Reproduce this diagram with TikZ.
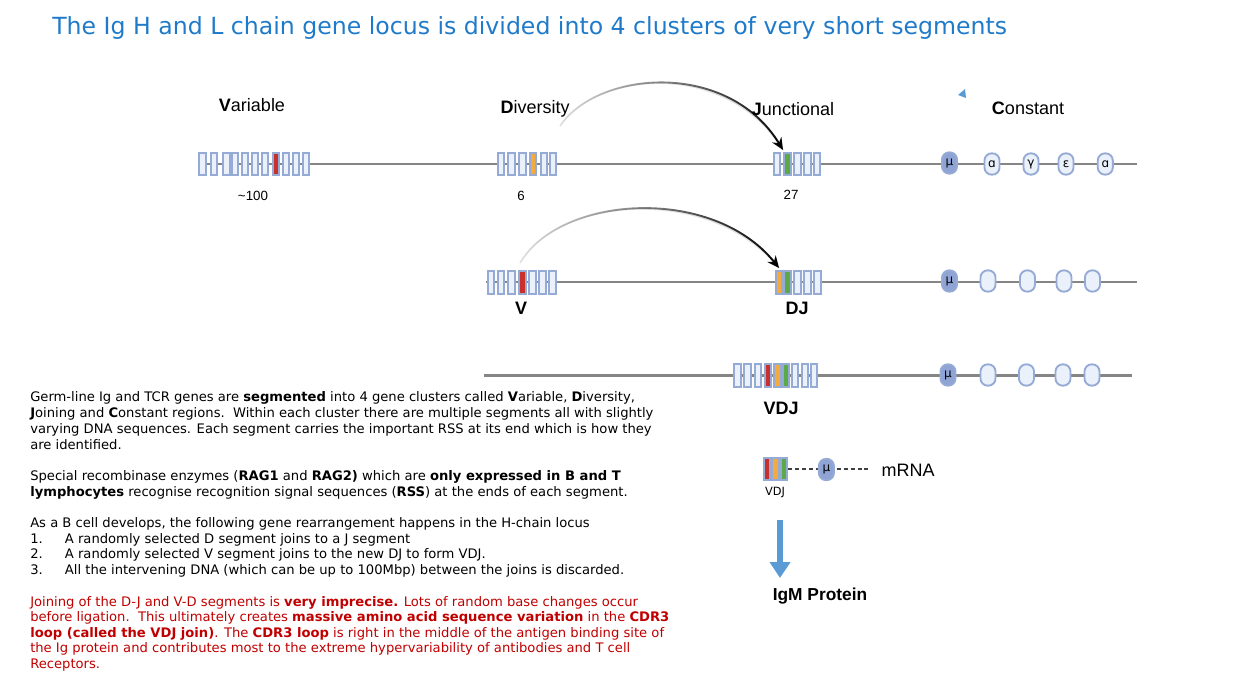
\documentclass[tikz,border=0pt]{standalone}
\usepackage{fontspec}
\setmainfont{DejaVu Sans}
\newfontfamily\lab{Liberation Sans}
\usetikzlibrary{arrows.meta,fadings}
\definecolor{titleblue}{HTML}{1F7BC9}
\definecolor{segborder}{HTML}{96AAD6}
\definecolor{segfill}{HTML}{EAF1FB}
\definecolor{segred}{HTML}{C8312B}
\definecolor{segorange}{HTML}{F2AB3C}
\definecolor{seggreen}{HTML}{5BAA47}
\definecolor{mufill}{HTML}{8FA4D5}
\definecolor{linegray}{HTML}{858585}
\definecolor{arrowblue}{HTML}{5B9BD5}
\definecolor{textred}{HTML}{C00000}
\begin{document}
\begin{tikzpicture}[x=0.75pt,y=-0.75pt,
  seg/.style={rectangle, draw=segborder, fill=segfill, line width=1.5pt,
    minimum width=4.8pt, minimum height=17.2pt, inner sep=0pt},
  oval/.style={rectangle, rounded corners=5.4pt, draw=segborder, fill=segfill, line width=1.4pt,
    minimum width=11.3pt, minimum height=16pt, inner sep=0pt, font=\fontsize{9pt}{9pt}\selectfont},
  muoval/.style={oval, fill=mufill},
  locus/.style={draw=linegray, line width=1.8pt},
  clabel/.style={font=\lab\fontsize{13.5pt}{15pt}\selectfont},
  blabel/.style={font=\lab\bfseries\fontsize{13.5pt}{15pt}\selectfont},
  numlabel/.style={font=\lab\fontsize{10pt}{12pt}\selectfont},
  para/.style={anchor=base west, align=left, inner sep=0pt, font=\fontsize{9.85pt}{11.6pt}\selectfont},
  arcbase/.style={draw=black!12, line width=1.2pt},
  arc/.style={draw=black, line width=1.4pt, path fading=west, -{Stealth[length=9pt,width=8pt]}},
  ]
\useasboundingbox (0,0) rectangle (1237,688);

% title
\node[anchor=west, inner sep=0pt, text=titleblue, font=\fontsize{17.7pt}{20pt}\selectfont] (title) at (52,28)
  {The Ig H and L chain gene locus is divided into 4 clusters of very short segments};

% locus lines
\coordinate (r1s) at (198,164); \coordinate (r1e) at (1137,164);
\coordinate (r2s) at (486,282); \coordinate (r2e) at (1137,282);
\coordinate (r3s) at (484,375.5); \coordinate (r3e) at (1132,375.5);
\draw[locus] (r1s) -- (r1e);
\draw[locus] (r2s) -- (r2e);
\draw[locus] (r3s) -- (r3e);

% row 1: V cluster
\foreach \x [count=\i] in {202.5,214.2,226.5,234.9,244.9,255.2,265.2,275.9,285.9,295.9,305.9}
  \node[seg] (va\i) at (\x,164) {};
\node[seg, fill=segred] at (va8) {};
% row 1: D cluster
\foreach \x [count=\i] in {500.8,511.5,522.5,533.2,544.2,553.2}
  \node[seg] (da\i) at (\x,164) {};
\node[seg, fill=segorange] at (da4) {};
% row 1: J cluster
\foreach \x [count=\i] in {776.9,787.5,797.5,807.5,816.9}
  \node[seg] (ja\i) at (\x,164) {};
\node[seg, fill=seggreen] at (ja2) {};
% row 1: constant
\node[muoval] (mu1) at (949.5,163) {μ};
\node[oval] (c1a) at (992,164) {ɑ};
\node[oval] (c1g) at (1031,164) {γ};
\node[oval] (c1e) at (1066,164) {ε};
\node[oval] (c1b) at (1105.3,164) {ɑ};

% labels row 1
\node[clabel] (lv) at (252,105) {\textbf{V}ariable};
\node[clabel] (ld) at (535,109) {\textbf{D}iversity};
\node[clabel] (lj) at (793,109) {\textbf{J}unctional};
\node[clabel] (lc) at (1028,108) {\textbf{C}onstant};
\node[numlabel] (n100) at (253,196) {\textasciitilde100};
\node[numlabel] (n6) at (521,196) {6};
\node[numlabel] (n27) at (791,195) {27};
\fill[arrowblue] (958,95) -- (965,89) -- (966,98) -- cycle;

% row 2
\foreach \x [count=\i] in {490.8,500.8,511.5,522.5,532.5,542.5,552.5}
  \node[seg] (vb\i) at (\x,282.5) {};
\node[seg, fill=segred] at (vb4) {};
\foreach \x [count=\i] in {779.2,787.5,797.5,807.5,817.5}
  \node[seg] (jb\i) at (\x,282.5) {};
\node[seg, fill=segorange] at (jb1) {};
\node[seg, fill=seggreen] at (jb2) {};
\node[muoval] (mu2) at (949.5,281) {μ};
\node[oval] (c2a) at (988,281) {};
\node[oval] (c2b) at (1027.5,281) {};
\node[oval] (c2c) at (1064,281) {};
\node[oval] (c2d) at (1092.5,281) {};
\node[blabel] (lV) at (521,308) {V};
\node[blabel] (lDJ) at (797,308) {DJ};

% row 3
\foreach \x [count=\i] in {737.5,747.5,758.2,768.2,777.5,785.9,794.9,804.9,814.2}
  \node[seg] (vc\i) at (\x,375.5) {};
\node[seg, fill=segred] at (vc4) {};
\node[seg, fill=segorange] at (vc5) {};
\node[seg, fill=seggreen] at (vc6) {};
\node[muoval] (mu3) at (948,375) {μ};
\node[oval] (c3a) at (988,375) {};
\node[oval] (c3b) at (1026.5,375) {};
\node[oval] (c3c) at (1063,375) {};
\node[oval] (c3d) at (1092,375) {};
\node[blabel] (lVDJ) at (781,408) {VDJ};

% arcs
\coordinate (a1s) at (560,126); \coordinate (a1e) at (783,150);
\draw[arcbase] (a1s) .. controls (598,70) and (728,60) .. (a1e);
\draw[arc] (a1s) .. controls (598,70) and (728,60) .. (a1e);
\coordinate (a2s) at (520,263); \coordinate (a2e) at (779,268);
\draw[arcbase] (a2s) .. controls (560,195) and (712,185) .. (a2e);
\draw[arc] (a2s) .. controls (560,195) and (712,185) .. (a2e);

% mRNA
\coordinate (me) at (870,469);
\node[seg, fill=segred] (m1) at (767,469) {};
\node[seg, fill=segorange] (m2) at (775.5,469) {};
\node[seg, fill=seggreen] (m3) at (784,469) {};
\draw[draw=black!75, line width=1.2pt, dash pattern=on 3pt off 2.2pt] (m3.east) -- (me);
\node[muoval] (mu4) at (826.4,469.5) {μ};
\node[clabel] (lm) at (908,470) {mRNA};
\node[font=\fontsize{8.5pt}{10pt}\selectfont] (lvdj2) at (775,492) {VDJ};

% protein arrow
\coordinate (pa) at (780,520);
\node[font=\lab\bfseries\fontsize{13pt}{15pt}\selectfont] (prot) at (820,596) {IgM Protein};
\draw[draw=arrowblue, line width=4.5pt, -{Triangle[length=12pt,width=15pt]}] (pa) -- (780,578);

% paragraphs (anchored at the baseline of their last line)
\node[para, font=\fontsize{9.85pt}{12pt}\selectfont] (p1) at (30,449) {Germ-line Ig and TCR genes are \textbf{segmented} into 4 gene clusters called \textbf{V}ariable, \textbf{D}iversity,\\
\textbf{J}oining and \textbf{C}onstant regions.\ \ Within each cluster there are multiple segments all with slightly\\
varying DNA sequences. Each segment carries the important RSS at its end which is how they\\
are identified.};
\node[para] (p2) at (30,496) {Special recombinase enzymes (\textbf{RAG1} and \textbf{RAG2)} which are \textbf{only expressed in B and T}\\
\textbf{lymphocytes} recognise recognition signal sequences (\textbf{RSS}) at the ends of each segment.};
\node[para] (p3) at (30,574) {As a B cell develops, the following gene rearrangement happens in the H-chain locus\\
\makebox[26pt][l]{1.}A randomly selected D segment joins to a J segment\\
\makebox[26pt][l]{2.}A randomly selected V segment joins to the new DJ to form VDJ.\\
\makebox[26pt][l]{3.}All the intervening DNA (which can be up to 100Mbp) between the joins is discarded.};
\node[para, text=textred] (p4) at (30,668) {Joining of the D-J and V-D segments is \textbf{very imprecise.} Lots of random base changes occur\\
before ligation.\ \ This ultimately creates \textbf{massive amino acid sequence variation} in the \textbf{CDR3}\\
\textbf{loop (called the VDJ join)}. The \textbf{CDR3 loop} is right in the middle of the antigen binding site of\\
the Ig protein and contributes most to the extreme hypervariability of antibodies and T cell\\
Receptors.};
\end{tikzpicture}
\end{document}
